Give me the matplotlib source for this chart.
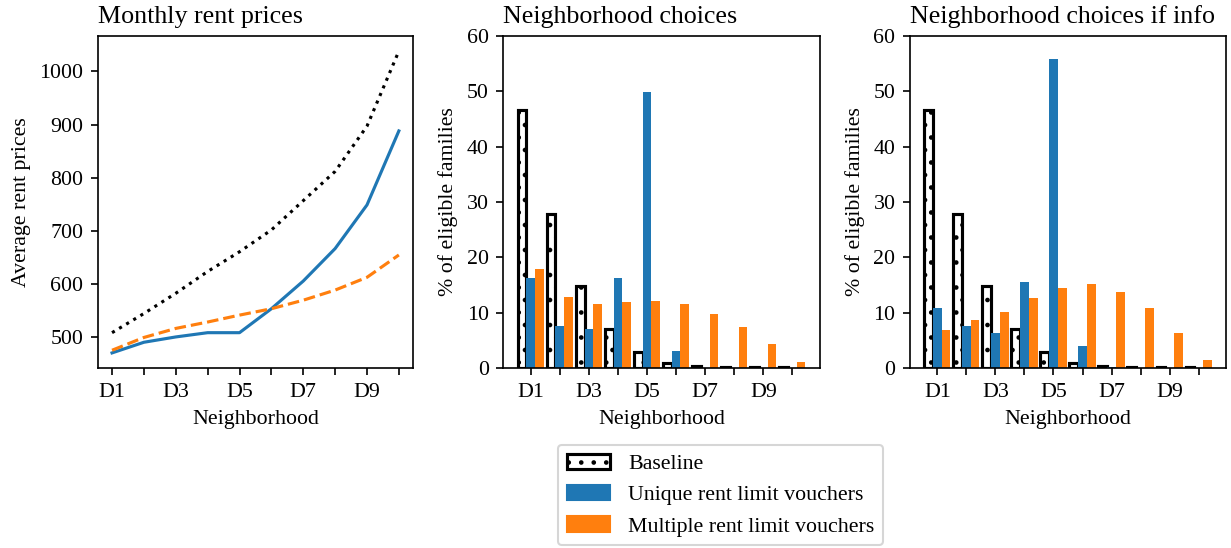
import numpy as np
import matplotlib
matplotlib.use("Agg")
import matplotlib.pyplot as plt
from matplotlib.patches import Patch


plt.rcParams["font.family"] = ["Liberation Serif", "STIXGeneral", "DejaVu Serif"]
plt.rcParams["font.size"] = 10.5
plt.rcParams["axes.titlesize"] = 12.5

neighborhoods = ["D1", "D2", "D3", "D4", "D5", "D6", "D7", "D8", "D9", "D10"]
tick_labels = ["D1", "", "D3", "", "D5", "", "D7", "", "D9", ""]

# monthly rent prices per neighborhood
rent_baseline = [509, 545, 583, 624, 661, 702, 757, 812, 897, 1038]
rent_unique = [471, 491, 501, 509, 509, 554, 606, 667, 749, 888]
rent_multiple = [476, 500, 517, 529, 542, 554, 570, 589, 613, 655]

# neighborhood choices, % of eligible families
choice_baseline = [46.7, 27.9, 14.9, 7.0, 2.85, 0.9, 0.35, 0.15, 0.1, 0.1]
choice_unique = [16.25, 7.55, 7.0, 16.25, 49.95, 3.15, 0.0, 0.0, 0.0, 0.0]
choice_multiple = [17.9, 12.8, 11.5, 11.9, 12.1, 11.5, 9.7, 7.5, 4.25, 1.15]

# neighborhood choices if info
info_baseline = [46.7, 27.9, 14.9, 7.0, 2.85, 0.9, 0.35, 0.15, 0.1, 0.1]
info_unique = [10.8, 7.55, 6.3, 15.5, 55.8, 4.05, 0.25, 0.0, 0.0, 0.0]
info_multiple = [6.85, 8.65, 10.1, 12.6, 14.5, 15.1, 13.7, 10.9, 6.25, 1.5]

BLUE = "#1f77b4"
ORANGE = "#ff7f0e"
W, H, DPI = 1231, 548, 150


def bar_panel(ax, base, unique, multiple, title):
    x = np.arange(len(neighborhoods))
    width = 0.3
    ax.bar(x - width, base, width, facecolor="white", edgecolor="black",
           hatch="..", linewidth=1.5)
    ax.bar(x, unique, width, color=BLUE)
    ax.bar(x + width, multiple, width, color=ORANGE)
    ax.set_ylim(0, 60)
    ax.set_yticks(np.arange(0, 61, 10))
    ax.set_xticks(x)
    ax.set_xticklabels(tick_labels)
    ax.set_xlabel("Neighborhood")
    ax.set_ylabel("% of eligible families")
    ax.set_title(title, loc="left")


fig = plt.figure(figsize=(W / DPI, H / DPI), dpi=DPI)

bottom = 180 / H
height = 332 / H
ax1 = fig.add_axes([97.7 / W, bottom, 315.5 / W, height])
ax2 = fig.add_axes([503.3 / W, bottom, 316.5 / W, height])
ax3 = fig.add_axes([910 / W, bottom, 316 / W, height])

x = np.arange(len(neighborhoods))
ax1.plot(x, rent_baseline, color="black", linestyle=":", linewidth=1.5)
ax1.plot(x, rent_unique, color=BLUE, linestyle="-", linewidth=1.5)
ax1.plot(x, rent_multiple, color=ORANGE, linestyle="--", linewidth=1.5)
ax1.set_xticks(x)
ax1.set_xticklabels(tick_labels)
ax1.set_xlabel("Neighborhood")
ax1.set_ylabel("Average rent prices")
ax1.set_title("Monthly rent prices", loc="left")

bar_panel(ax2, choice_baseline, choice_unique, choice_multiple, "Neighborhood choices")
bar_panel(ax3, info_baseline, info_unique, info_multiple, "Neighborhood choices if info")

handles = [
    Patch(facecolor="white", edgecolor="black", hatch="..", linewidth=1.5, label="Baseline"),
    Patch(color=BLUE, label="Unique rent limit vouchers"),
    Patch(color=ORANGE, label="Multiple rent limit vouchers"),
]
fig.legend(handles=handles, loc="upper center", borderaxespad=0,
           bbox_to_anchor=(720.5 / W, 1 - 445 / H))

fig.savefig("out.png", dpi=DPI)
